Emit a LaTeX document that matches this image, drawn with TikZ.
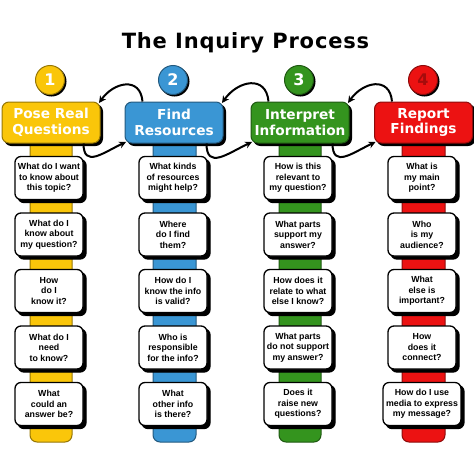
\documentclass[tikz,border=0pt]{standalone}
\usepackage{fontspec}
\setmainfont{Liberation Sans}
\newfontfamily\headfont{DejaVu Sans}
\newfontfamily\titlefont{DejaVu Sans}[LetterSpace=4]
\usetikzlibrary{arrows.meta,shadows}

\definecolor{inqyellow}{RGB}{250,198,10}
\definecolor{inqblue}{RGB}{58,150,212}
\definecolor{inqgreen}{RGB}{52,148,30}
\definecolor{inqred}{RGB}{236,18,18}

\begin{document}
\begin{tikzpicture}[x=1pt,y=1pt,
  head/.style={rectangle, rounded corners=7pt, minimum width=98pt, minimum height=41pt, line width=1pt, text=white, align=center,
    font=\headfont\bfseries\fontsize{13.7}{15.5}\selectfont,
    copy shadow={shadow xshift=2.5pt, shadow yshift=-2.5pt, fill=black, draw=black}},
  num/.style={circle, minimum size=29pt, inner sep=0pt, line width=1pt, text=white,
    font=\headfont\bfseries\fontsize{16}{16}\selectfont,
    copy shadow={shadow xshift=1.5pt, shadow yshift=-1.5pt, fill=black, draw=black}},
  ask/.style={rectangle, rounded corners=6pt, minimum width=68pt, minimum height=43pt, inner sep=3pt, draw=black, line width=1.3pt, fill=white, align=center,
    font=\bfseries\fontsize{8.8}{10.5}\selectfont,
    copy shadow={shadow xshift=3pt, shadow yshift=-3pt, fill=black, draw=black}},
  bar/.style={rounded corners=7pt, line width=1pt},
  bendarrow/.style={-{Stealth[length=7pt,width=7pt]}, line width=2pt, looseness=1.5}
]
\useasboundingbox (0,0) rectangle (474,-474);

%% title
\node[anchor=base, font=\titlefont\bfseries\fontsize{21}{21}\selectfont] (title) at (245.5,-48) {The Inquiry Process};

%% bars
\draw[bar, fill=inqyellow, draw=inqyellow!60!black] (30,-125) rectangle (72,-442);   %% yellow
\draw[bar, fill=inqblue, draw=inqblue!60!black] (153,-125) rectangle (196,-442);     %% blue
\draw[bar, fill=inqgreen, draw=inqgreen!60!black] (279,-125) rectangle (321,-442);   %% green
\draw[bar, fill=inqred, draw=inqred!60!black] (402,-125) rectangle (445,-442);       %% red

%% number circles
\node[num, fill=inqyellow, draw=inqyellow!60!black] (one) at (50,-80) {1};
\node[num, fill=inqblue, draw=inqblue!60!black] (two) at (173,-80) {2};
\node[num, fill=inqgreen, draw=inqgreen!60!black] (three) at (299,-80) {3};
\node[num, fill=inqred, draw=inqred!60!black, text=inqred!70!black] (four) at (423,-80) {4};

%% headers
\node[head, fill=inqyellow, draw=inqyellow!60!black] (pose) at (51,-122.5) {Pose Real\\Questions};
\node[head, fill=inqblue, draw=inqblue!60!black] (find) at (174,-122.5) {Find\\Resources};
\node[head, fill=inqgreen, draw=inqgreen!60!black] (interpret) at (300,-122.5) {Interpret\\Information};
\node[head, fill=inqred, draw=inqred!60!black] (report) at (423.5,-122.5) {Report\\Findings};

%% questions, step 1
\node[ask] (pose1) at (49,-178) {What do I want\\to know about\\this topic?};
\node[ask] (pose2) at (49,-234.5) {What do I\\know about\\my question?};
\node[ask] (pose3) at (49,-291) {How\\do I\\know it?};
\node[ask] (pose4) at (49,-347.5) {What do I\\need\\to know?};
\node[ask] (pose5) at (49,-404) {What\\could an\\answer be?};

%% questions, step 2
\node[ask] (find1) at (173,-178) {What kinds\\of resources\\might help?};
\node[ask] (find2) at (173,-234.5) {Where\\do I find\\them?};
\node[ask] (find3) at (173,-291) {How do I\\know the info\\is valid?};
\node[ask] (find4) at (173,-347.5) {Who is\\responsible\\for the info?};
\node[ask] (find5) at (173,-404) {What\\other info\\is there?};

%% questions, step 3
\node[ask] (interpret1) at (298,-178) {How is this\\relevant to\\my question?};
\node[ask] (interpret2) at (298,-234.5) {What parts\\support my\\answer?};
\node[ask] (interpret3) at (298,-291) {How does it\\relate to what\\else I know?};
\node[ask] (interpret4) at (298,-347.5) {What parts\\do not support\\my answer?};
\node[ask] (interpret5) at (298,-404) {Does it\\raise new\\questions?};

%% questions, step 4
\node[ask] (report1) at (422,-178) {What is\\my main\\point?};
\node[ask] (report2) at (422,-234.5) {Who\\is my\\audience?};
\node[ask] (report3) at (422,-291) {What\\else is\\important?};
\node[ask] (report4) at (422,-347.5) {How\\does it\\connect?};
\node[ask] (report5) at (422,-404) {How do I use\\media to express\\my message?};

%% arrows back (top)
\draw[bendarrow] ([xshift=18pt]find.north west) to[out=95,in=55] ([xshift=-1.5pt,yshift=-1.5pt]pose.north east);           %% find-pose
\draw[bendarrow] ([xshift=18pt]interpret.north west) to[out=95,in=55] ([xshift=-1.5pt,yshift=-1.5pt]find.north east);      %% interpret-find
\draw[bendarrow] ([xshift=18pt]report.north west) to[out=95,in=55] ([xshift=-1.5pt,yshift=-1.5pt]interpret.north east);    %% report-interpret

%% arrows forward (bottom)
\draw[bendarrow] ([xshift=-17pt]pose.south east) to[out=-90,in=205] ([xshift=1.5pt,yshift=1.5pt]find.south west);          %% pose-find
\draw[bendarrow] ([xshift=-17pt]find.south east) to[out=-90,in=205] ([xshift=1.5pt,yshift=1.5pt]interpret.south west);     %% find-interpret
\draw[bendarrow] ([xshift=-17pt]interpret.south east) to[out=-90,in=205] ([xshift=1.5pt,yshift=1.5pt]report.south west);   %% interpret-report
\end{tikzpicture}
\end{document}
